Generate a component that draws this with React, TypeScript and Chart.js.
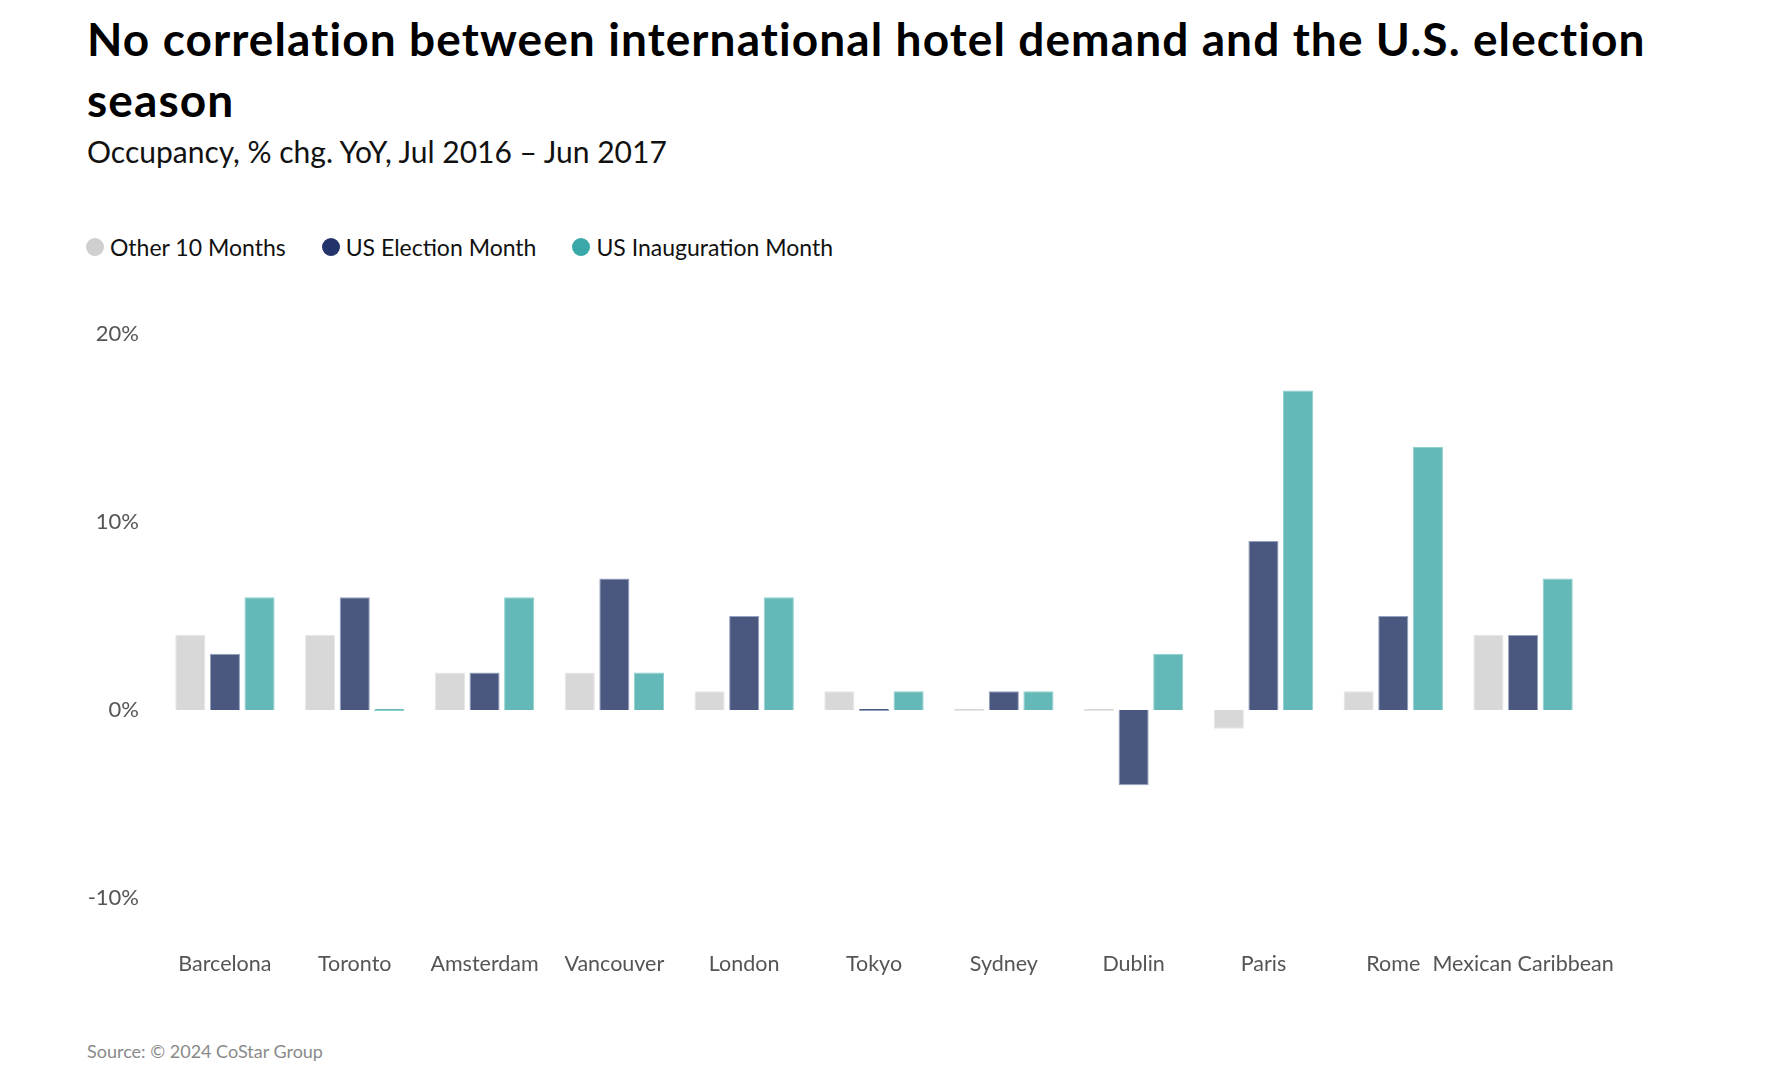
import React, { useEffect, useRef } from "react";
import { Chart, registerables } from "chart.js";

Chart.register(...registerables);

const categories = [
  "Barcelona",
  "Toronto",
  "Amsterdam",
  "Vancouver",
  "London",
  "Tokyo",
  "Sydney",
  "Dublin",
  "Paris",
  "Rome",
  "Mexican Caribbean",
];
const otherMonths = [4, 4, 2, 2, 1, 1, 0, 0, -1, 1, 4];
const electionMonth = [3, 6, 2, 7, 5, 0, 1, -4, 9, 5, 4];
const inaugurationMonth = [6, 0, 6, 2, 6, 1, 1, 3, 17, 14, 7];
const seriesNames = ["Other 10 Months", "US Election Month", "US Inauguration Month"];
const yMin = -10;
const yMax = 20;
const yStep = 10;

const barColors = ["#d8d8d8", "#4a5880", "#64b8b7"];
const barBorders = ["#e6e6e6", "#97a2c0", "#8ed0cf"];
const legendColors = ["#cfcfcf", "#22346a", "#3aa8a8"];

const FONT = "Lato, 'Noto Sans', sans-serif";

export default function App() {
  const ref = useRef<HTMLCanvasElement | null>(null);

  useEffect(() => {
    if (!ref.current) return;
    const series = [otherMonths, electionMonth, inaugurationMonth];
    const chart = new Chart(ref.current, {
      type: "bar",
      data: {
        labels: categories,
        datasets: series.map((d, i) => ({
          label: seriesNames[i],
          data: d,
          backgroundColor: barColors[i],
          borderColor: barBorders[i],
          borderWidth: 1,
          categoryPercentage: 0.8,
          barPercentage: 0.87,
          minBarLength: 2,
        })),
      },
      options: {
        animation: false,
        responsive: false,
        maintainAspectRatio: false,
        layout: { padding: { top: 34, right: 204, left: 0, bottom: 0 } },
        plugins: {
          legend: { display: false },
          tooltip: { enabled: false },
          title: { display: false },
        },
        scales: {
          x: {
            grid: { display: false, drawTicks: false },
            border: { display: false },
            ticks: {
              color: "#555555",
              font: { family: FONT, size: 21.5 },
              padding: 53,
              maxRotation: 0,
              autoSkip: false,
            },
            afterFit: (s: any) => {
              s.height = 102;
            },
          },
          y: {
            min: yMin,
            max: yMax,
            grid: { display: false, drawTicks: false },
            border: { display: false },
            ticks: {
              stepSize: yStep,
              color: "#555555",
              font: { family: FONT, size: 22 },
              padding: 21,
              callback: (v: any) => `${v}%`,
            },
            afterFit: (s: any) => {
              s.width = 160;
            },
          },
        },
      },
    });
    return () => chart.destroy();
  }, []);

  return (
    <div
      style={{
        position: "absolute",
        left: 0,
        top: 0,
        width: 1792,
        height: 1084,
        background: "#ffffff",
        fontFamily: FONT,
        overflow: "hidden",
      }}
    >
      <div
        style={{
          position: "absolute",
          left: 87,
          top: 8,
          width: 1700,
          fontSize: 46,
          fontWeight: 700,
          letterSpacing: "1.1px",
          lineHeight: "61px",
          color: "#000",
          whiteSpace: "nowrap",
        }}
      >
        No correlation between international hotel demand and the U.S. election
        <br />
        season
      </div>
      <div
        style={{
          position: "absolute",
          left: 87,
          top: 133,
          fontSize: 30,
          lineHeight: "36px",
          color: "#111",
          whiteSpace: "nowrap",
        }}
      >
        Occupancy, % chg. YoY, Jul 2016 – Jun 2017
      </div>
      <div
        style={{
          position: "absolute",
          left: 86,
          top: 232,
          height: 30,
          display: "flex",
          alignItems: "center",
          fontSize: 23,
          lineHeight: "30px",
          color: "#111",
          whiteSpace: "nowrap",
        }}
      >
        {seriesNames.map((n, i) => (
          <div key={n} style={{ display: "flex", alignItems: "center", marginRight: 36 }}>
            <span
              style={{
                display: "inline-block",
                width: 18,
                height: 18,
                borderRadius: 9,
                background: legendColors[i],
                marginRight: 6,
              }}
            />
            <span>{n}</span>
          </div>
        ))}
      </div>
      <canvas
        ref={ref}
        width={1792}
        height={700}
        style={{ position: "absolute", left: 0, top: 300, width: 1792, height: 700 }}
      />
      <div
        style={{
          position: "absolute",
          left: 87,
          top: 1040,
          fontSize: 18,
          lineHeight: "22px",
          color: "#8a8a8a",
          whiteSpace: "nowrap",
        }}
      >
        Source: © 2024 CoStar Group
      </div>
    </div>
  );
}
